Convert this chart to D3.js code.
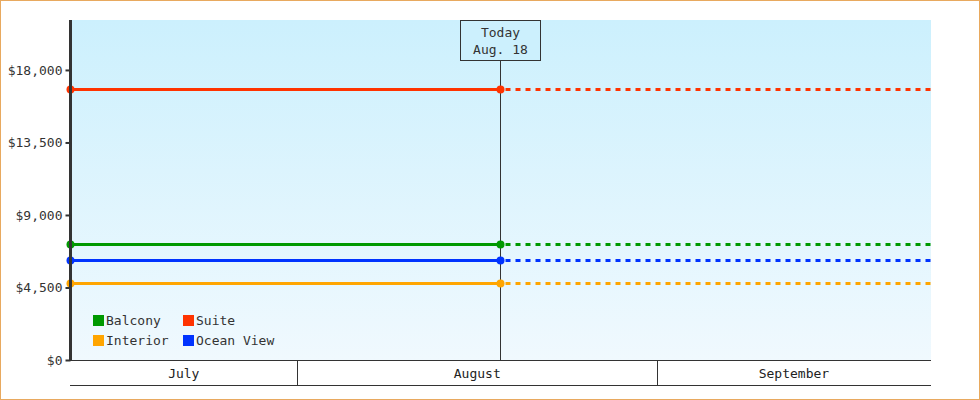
<!DOCTYPE html>
<html>
<head>
<meta charset="utf-8">
<script src="https://cdn.jsdelivr.net/npm/d3@7"></script>
<style>
  html, body { margin: 0; padding: 0; background: #fff; }
  svg { display: block; font-family: "DejaVu Sans Mono", "Liberation Mono", monospace; }
</style>
</head>
<body>
<svg id="chart" width="980" height="400"></svg>
<script>
const seriesNames = ["Balcony", "Suite", "Interior", "Ocean View"];
const seriesColors = ["#009900", "#ff3300", "#ffa500", "#0033ff"];
// price at start of window and today (flat)
const balcony = [7200, 7200];
const suite = [16800, 16800];
const interior = [4800, 4800];
const oceanView = [6200, 6200];
const yTicks = [0, 4500, 9000, 13500, 18000];
const months = ["July", "August", "September"];

const today = new Date(2024, 7, 18, 12);
const startDate = new Date(2024, 6, 12, 12);
const endDate = new Date(2024, 8, 24, 12);
const pointDates = [startDate, today];

const svg = d3.select("#chart");
const width = +svg.attr("width");
const height = +svg.attr("height");
const margin = { top: 20, right: 49, bottom: 40, left: 71 };
const plotW = width - margin.left - margin.right;
const plotH = height - margin.top - margin.bottom;

// outer border
svg.append("rect")
  .attr("x", 0.5).attr("y", 0.5)
  .attr("width", width - 1).attr("height", height - 1)
  .attr("fill", "#fff")
  .attr("stroke", "#e8a95f");

const defs = svg.append("defs");
const grad = defs.append("linearGradient")
  .attr("id", "bg").attr("x1", 0).attr("y1", 0).attr("x2", 0).attr("y2", 1);
grad.append("stop").attr("offset", "0%").attr("stop-color", "#ccf0fd");
grad.append("stop").attr("offset", "100%").attr("stop-color", "#f0f9fe");

const g = svg.append("g").attr("transform", `translate(${margin.left},${margin.top})`);

const x = d3.scaleTime().domain([startDate, endDate]).range([-0.5, plotW - 0.5]);
const y = d3.scaleLinear().domain([0, 21100]).range([plotH, 0]);

g.append("rect")
  .attr("width", plotW).attr("height", plotH)
  .attr("fill", "url(#bg)");

// today marker
const tx = Math.floor(x(today)) + 0.5;
g.append("line")
  .attr("x1", tx).attr("x2", tx)
  .attr("y1", 0).attr("y2", plotH)
  .attr("stroke", "#333").attr("stroke-width", 1);

const labelBox = g.append("g").attr("transform", `translate(${tx},0)`);
labelBox.append("rect")
  .attr("x", -40).attr("y", 0.5)
  .attr("width", 80).attr("height", 40)
  .attr("fill", "#ccf0fd")
  .attr("stroke", "#333");
labelBox.append("text")
  .attr("y", 17).attr("text-anchor", "middle")
  .attr("font-size", 13).attr("fill", "#333")
  .text("Today");
labelBox.append("text")
  .attr("y", 34).attr("text-anchor", "middle")
  .attr("font-size", 13).attr("fill", "#333")
  .text("Aug. 18");

// series
const seriesValues = [balcony, suite, interior, oceanView];
const series = seriesNames.map((name, i) => ({
  name,
  color: seriesColors[i],
  points: pointDates.map((d, j) => ({ date: d, value: seriesValues[i][j] }))
}));

const line = d3.line().x(d => x(d.date)).y(d => Math.round(y(d.value)) + 0.5);

series.forEach(s => {
  const last = s.points[s.points.length - 1];
  g.append("path")
    .datum([last, { date: endDate, value: last.value }])
    .attr("fill", "none")
    .attr("stroke", s.color)
    .attr("stroke-width", 3)
    .attr("stroke-dasharray", "5,5")
    .attr("stroke-dashoffset", -5)
    .attr("d", line);
  g.append("path")
    .datum(s.points)
    .attr("fill", "none")
    .attr("stroke", s.color)
    .attr("stroke-width", 3)
    .attr("d", line);
  g.selectAll(null)
    .data(s.points)
    .enter()
    .append("circle")
    .attr("cx", d => x(d.date))
    .attr("cy", d => Math.round(y(d.value)) + 0.5)
    .attr("r", 4)
    .attr("fill", s.color);
});

// y axis
const yAxis = d3.axisLeft(y)
  .tickValues(yTicks)
  .tickSize(5)
  .tickPadding(3)
  .tickFormat(d => "$" + d3.format(",")(d));
const yG = g.append("g").attr("transform", "translate(-0.5,0)").call(yAxis);
yG.select(".domain").attr("stroke", "#333").attr("stroke-width", 3).attr("d", `M0,0V${plotH}`);
yG.selectAll(".tick line").attr("stroke", "#333").attr("stroke-width", 2);
yG.selectAll(".tick text")
  .attr("font-family", "DejaVu Sans Mono, monospace")
  .attr("font-size", 13).attr("fill", "#333");

// month band row
const bandTop = plotH + 0.5;
const bandBottom = plotH + 25.5;
g.append("line")
  .attr("x1", -1).attr("x2", plotW)
  .attr("y1", bandTop).attr("y2", bandTop)
  .attr("stroke", "#333").attr("stroke-width", 1);
g.append("line")
  .attr("x1", -1).attr("x2", plotW)
  .attr("y1", bandBottom).attr("y2", bandBottom)
  .attr("stroke", "#333").attr("stroke-width", 1);

const monthStarts = [startDate, new Date(2024, 7, 1), new Date(2024, 8, 1)];
const monthEnds = [new Date(2024, 7, 1), new Date(2024, 8, 1), endDate];
months.forEach((m, i) => {
  const x0 = x(monthStarts[i]);
  const x1 = x(monthEnds[i]);
  if (i > 0) {
    g.append("line")
      .attr("x1", Math.floor(x0) + 0.5).attr("x2", Math.floor(x0) + 0.5)
      .attr("y1", bandTop).attr("y2", bandBottom)
      .attr("stroke", "#333");
  }
  g.append("text")
    .attr("x", (x0 + x1) / 2)
    .attr("y", plotH + 18)
    .attr("text-anchor", "middle")
    .attr("font-size", 13).attr("fill", "#222")
    .text(m);
});

// legend
const legend = g.append("g").attr("transform", `translate(22,${plotH - 45})`);
const legendOrder = [0, 1, 2, 3];
legendOrder.forEach((idx, k) => {
  const col = k % 2, row = Math.floor(k / 2);
  const item = legend.append("g").attr("transform", `translate(${col * 90},${row * 20})`);
  item.append("rect")
    .attr("width", 11).attr("height", 11)
    .attr("fill", seriesColors[idx]);
  item.append("text")
    .attr("x", 13).attr("y", 10)
    .attr("font-size", 13).attr("fill", "#333")
    .text(seriesNames[idx]);
});
</script>
</body>
</html>
